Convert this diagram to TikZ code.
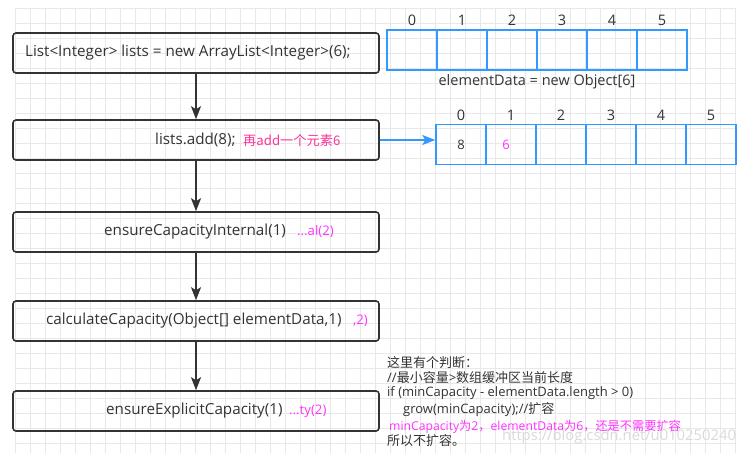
\documentclass[tikz,border=0pt]{standalone}
\usepackage{fontspec}
\setmainfont{Open Sans}
\newfontfamily\cjk{Noto Sans CJK SC}
\usetikzlibrary{arrows.meta}
\definecolor{dk}{HTML}{333333}
\definecolor{bl}{HTML}{3399FF}
\definecolor{pk}{HTML}{FF3399}
\definecolor{mg}{HTML}{FF33FF}
\definecolor{gridc}{HTML}{E8E8E8}
\definecolor{wm}{HTML}{DADADA}
\tikzset{
  stepbox/.style={draw=dk, line width=1.6pt, rounded corners=3pt, minimum width=366pt, minimum height=40pt, inner sep=0pt},
  cell/.style={draw=bl, line width=1.5pt, minimum width=50pt, minimum height=40pt, inner sep=0pt},
  txt/.style={text=dk, font=\fontsize{15.2}{17}\selectfont, inner sep=0pt, anchor=west},
  mtxt/.style={text=mg, font=\fontsize{13.2}{15}\selectfont, inner sep=0pt, anchor=west},
  idx/.style={text=dk, font=\fontsize{14.5}{16}\selectfont, inner sep=0pt},
  note/.style={text=dk, font=\fontsize{13}{14}\selectfont, inner sep=0pt, anchor=west},
  flow/.style={draw=dk, line width=1.6pt, -{Stealth[length=13pt, width=10pt, inset=3pt]}},
  bflow/.style={draw=bl, line width=1.6pt, -{Stealth[length=13pt, width=10pt, inset=3pt]}}
}
\begin{document}
\begin{tikzpicture}[x=1pt,y=-1pt]
\useasboundingbox[fill=white] (0,0) rectangle (749,466);
% grid
\foreach \x in {15,30,...,735} \draw[gridc, line width=0.8pt] (\x,8) -- (\x,453);
\foreach \y in {8,23,...,443} \draw[gridc, line width=0.8pt] (15,\y) -- (735,\y);
% flow boxes
\node[stepbox] (b1) at (196,53) {};
\node[stepbox] (b2) at (196,140) {};
\node[stepbox] (b3) at (196,232) {};
\node[stepbox] (b4) at (196,321) {};
\node[stepbox] (b5) at (196,411) {};
\node[txt] (t1) at (25,53) {List<Integer> lists = new ArrayList<Integer>(6);};
\node[txt] (t2) at (155,140) {lists.add(8);};
\node[mtxt, text=pk] (m2) at (243,140) {\cjk 再add一个元素6};
\node[txt] (t3) at (104,232) {ensureCapacityInternal(1)};
\node[mtxt] (m3) at (297,232) {...al(2)};
\node[txt] (t4) at (46,321) {calculateCapacity(Object[] elementData,1)};
\node[mtxt] (m4) at (353,321) {,2)};
\node[txt] (t5) at (106,411) {ensureExplicitCapacity(1)};
\node[mtxt] (m5) at (289,411) {...ty(2)};
\draw[flow] (b1) -- (b2);
\draw[flow] (b2) -- (b3);
\draw[flow] (b3) -- (b4);
\draw[flow] (b4) -- (b5);
% arrays
\foreach \i in {0,...,5} {
  \node[cell] (a\i) at (412+50*\i,50) {};
  \node[idx] (ai\i) at (412+50*\i,20) {\i};
  \node[cell] (c\i) at (461+50*\i,144.5) {};
  \node[idx] (ci\i) at (461+50*\i,115) {\i};
}
\node[idx] (ed) at (537,82) {elementData = new Object[6]};
\node[idx, font=\fontsize{13}{14}\selectfont] (v0) at (c0) {8};
\node[idx, text=mg, font=\fontsize{13}{14}\selectfont] (v1) at (506,144.5) {6};
\draw[bflow] (b2.east) -- (b2.east -| c0.west);
% watermark
\node[text=wm, font=\fontsize{14.8}{16}\selectfont, inner sep=0pt, anchor=west] (wmk) at (502,437) {https://blog.csdn.net/u010250240};
% note
\node[note] (n1) at (387,363) {\cjk 这里有个判断：};
\node[note] (n2) at (387,378) {//{\cjk 最小容量}>{\cjk 数组缓冲区当前长度}};
\node[note] (n3) at (387,393) {if (minCapacity - elementData.length > 0)};
\node[note] (n4) at (403,410) {grow(minCapacity);//{\cjk 扩容}};
\node[note, text=mg, font=\fontsize{12.2}{14}\selectfont] (n5) at (389,427) {minCapacity{\cjk 为}2{\cjk ，}elementData{\cjk 为}6{\cjk ，还是不需要扩容}};
\node[note] (n6) at (387,441) {\cjk 所以不扩容。};
\end{tikzpicture}
\end{document}
